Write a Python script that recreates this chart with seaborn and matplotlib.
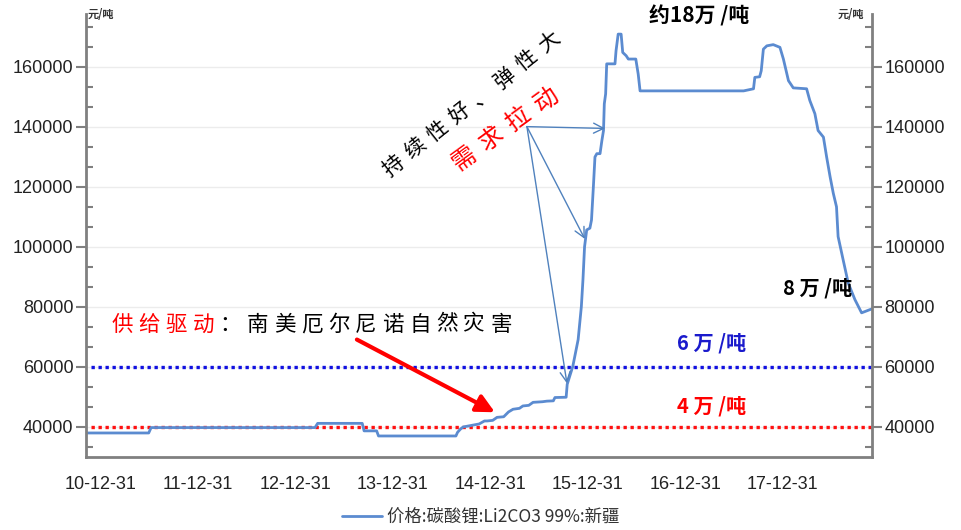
import matplotlib
matplotlib.use("Agg")
import matplotlib.pyplot as plt
import matplotlib.dates as mdates
import matplotlib.ticker as mticker
import matplotlib.transforms as mtransforms
import numpy as np
import pandas as pd
import seaborn as sns

# ---- data: Xinjiang Li2CO3 99% price (yuan/ton) ----
dates = [
    "2010-11-08", "2011-07-01", "2011-07-10", "2013-03-15", "2013-03-25",
    "2013-09-08", "2013-09-15", "2013-11-01", "2013-11-08", "2014-08-25",
    "2014-08-31", "2014-09-10", "2014-09-21", "2014-11-20", "2014-12-10",
    "2014-12-20", "2015-01-10", "2015-01-26", "2015-02-20", "2015-03-10",
    "2015-03-27", "2015-04-20", "2015-05-03", "2015-05-25", "2015-06-10",
    "2015-07-15", "2015-08-01", "2015-08-25", "2015-08-31", "2015-10-12",
    "2015-10-16", "2015-11-06", "2015-11-26", "2015-12-08", "2015-12-14",
    "2015-12-20", "2015-12-28", "2016-01-09", "2016-01-15", "2016-01-22",
    "2016-01-28", "2016-02-04", "2016-02-16", "2016-02-23", "2016-02-29",
    "2016-03-03", "2016-03-08", "2016-03-12", "2016-04-12", "2016-04-16",
    "2016-04-24", "2016-05-05", "2016-05-11", "2016-05-24", "2016-06-01",
    "2016-06-29", "2016-07-08", "2016-07-15", "2017-08-07", "2017-09-13",
    "2017-09-18", "2017-10-06", "2017-10-12", "2017-10-20", "2017-11-02",
    "2017-11-26", "2017-12-21", "2018-01-03", "2018-01-22", "2018-02-09",
    "2018-03-31", "2018-04-12", "2018-05-01", "2018-05-13", "2018-06-02",
    "2018-06-14", "2018-06-27", "2018-07-09", "2018-07-21", "2018-07-27",
    "2018-08-15", "2018-09-03", "2018-09-28", "2018-10-23", "2018-11-30",
]
prices = [
    38000, 38000, 39800, 39800, 41200,
    41200, 38700, 38700, 37000, 37000,
    38200, 39200, 40000, 41000, 42000,
    42000, 42200, 43200, 43400, 45000,
    45900, 46200, 47000, 47200, 48200,
    48400, 48600, 48700, 49800, 49900,
    54200, 60200, 69100, 80100, 89000,
    100000, 105600, 106200, 108900, 119900,
    129900, 131000, 131000, 135400, 138700,
    147600, 150900, 160900, 160900, 165300,
    170800, 170800, 164700, 163600, 162500,
    162500, 157500, 151900, 151900, 152600,
    156400, 156600, 158600, 165800, 166900,
    167300, 166400, 162500, 155300, 152900,
    152600, 148700, 144300, 138700, 136500,
    129900, 123300, 117800, 113300, 103400,
    95600, 87900, 82400, 78000, 79300,
]
series_name = "价格:碳酸锂:Li2CO3 99%:新疆"

year_ends = [f"{y}-12-31" for y in range(2010, 2018)]
y_major = [40000, 60000, 80000, 100000, 120000, 140000, 160000]
ref_levels = [60000, 40000]
ref_labels = ["6 万 /吨", "4 万 /吨"]

df = pd.DataFrame({"date": pd.to_datetime(dates), "price": prices})

# ---- style ----
sns.set_theme(style="white")
plt.rcParams["font.family"] = ["Noto Sans CJK SC", "DejaVu Sans"]
plt.rcParams["axes.unicode_minus"] = False

LINE = "#5b8bd0"
SPINE = "#808080"
TXT = "#222222"

fig = plt.figure(figsize=(9.62, 5.30), dpi=100)
ax = fig.add_axes([86 / 962, 1 - 457 / 530, (872 - 86) / 962, (457 - 14) / 530])

sns.lineplot(data=df, x="date", y="price", ax=ax, color=LINE, linewidth=2.0,
             label=series_name)
handles, labels = ax.get_legend_handles_labels()
ax.get_legend().remove()

x0 = pd.Timestamp("2010-11-08")
x1 = pd.Timestamp("2018-12-01")
ax.set_xlim(x0, x1)
ax.set_ylim(30000, 177500)
ax.set_xlabel("")
ax.set_ylabel("")

# reference levels
ax.hlines(ref_levels[0], pd.Timestamp("2010-11-25"), x1, colors="#1010e0",
          linestyles=(0, (1, 1.1)), linewidth=2.4, zorder=1)
ax.hlines(ref_levels[1], pd.Timestamp("2010-11-25"), x1, colors="#ff1010",
          linestyles=(0, (1, 1.1)), linewidth=2.4, zorder=1)

# x axis: year-end majors, quarter-end minors
quarter_ends = [pd.Timestamp(y, m, d) for y in range(2010, 2019)
                for (m, d) in [(3, 31), (6, 30), (9, 30), (12, 31)]]
quarter_ends = [q for q in quarter_ends if x0 <= q <= x1]
ax.xaxis.set_major_locator(mticker.FixedLocator(mdates.date2num(pd.to_datetime(year_ends))))
ax.xaxis.set_minor_locator(mticker.FixedLocator(mdates.date2num(quarter_ends)))
ax.xaxis.set_major_formatter(mdates.DateFormatter("%y-%m-%d"))

ax.yaxis.set_major_locator(mticker.FixedLocator(y_major))
ax.yaxis.set_minor_locator(mticker.MultipleLocator(20000 / 3))
ax.yaxis.set_major_formatter(mticker.FormatStrFormatter("%d"))

ax.yaxis.grid(True, which="major", color="#ececec", linewidth=1)
ax.xaxis.grid(False)
ax.set_axisbelow(True)

for s in ["top", "right"]:
    ax.spines[s].set_visible(False)
for s in ["left", "bottom"]:
    ax.spines[s].set_color(SPINE)
    ax.spines[s].set_linewidth(2)

ax.tick_params(axis="x", which="major", direction="out", length=8, width=1.5,
               color=SPINE, labelcolor=TXT, labelsize=13, pad=6)
ax.tick_params(axis="x", which="minor", direction="out", length=5, width=1.5,
               color=SPINE)
ax.tick_params(axis="y", which="major", direction="out", length=7, width=1.5,
               color=SPINE, labelcolor=TXT, labelsize=13, pad=2)
ax.tick_params(axis="y", which="minor", direction="in", length=5, width=1.5,
               color=SPINE)
for lab in ax.get_xticklabels() + ax.get_yticklabels():
    lab.set_fontfamily("Liberation Sans")

# mirrored right axis
ax2 = ax.twinx()
ax2.set_ylim(ax.get_ylim())
ax2.yaxis.set_major_locator(mticker.FixedLocator(y_major))
ax2.yaxis.set_minor_locator(mticker.MultipleLocator(20000 / 3))
ax2.yaxis.set_major_formatter(mticker.FormatStrFormatter("%d"))
ax2.grid(False)
for s in ["top", "left", "bottom"]:
    ax2.spines[s].set_visible(False)
ax2.spines["right"].set_color(SPINE)
ax2.spines["right"].set_linewidth(2)
ax2.tick_params(axis="y", which="major", direction="out", length=7, width=1.5,
                color=SPINE, labelcolor=TXT, labelsize=13, pad=2)
ax2.tick_params(axis="y", which="minor", direction="in", length=5, width=1.5,
                color=SPINE)
for lab in ax2.get_yticklabels():
    lab.set_fontfamily("Liberation Sans")

# unit labels
fig.text(88 / 962, 1 - 15 / 530, "元/吨", fontsize=8, color="#333333",
         ha="left", va="center", fontweight="bold")
fig.text(838 / 962, 1 - 15 / 530, "元/吨", fontsize=8, color="#333333",
         ha="left", va="center", fontweight="bold")


def dnum(s):
    return mdates.date2num(pd.Timestamp(s))


def spaced(x, y, text, step, angle=0.0, colors=None, **kw):
    """Draw text character by character with a fixed pitch (points)."""
    th = np.deg2rad(angle)
    n = len(text)
    for i, ch in enumerate(text):
        d = (i - (n - 1) / 2) * step
        tr = mtransforms.offset_copy(ax.transData, fig=fig, x=d * np.cos(th),
                                     y=d * np.sin(th), units="points")
        c = colors[i] if colors is not None else kw.get("color", "black")
        kk = {k: v for k, v in kw.items() if k != "color"}
        ax.text(x, y, ch, transform=tr, rotation=angle, ha="center",
                va="center", color=c, clip_on=False, **kk)


# value callouts
ax.text(dnum("2017-02-21"), 176800, "约18万 /吨", fontsize=15, fontweight="bold",
        color="black", ha="center", va="center", clip_on=False)
ax.text(dnum("2018-05-12"), 86300, "8 万 /吨", fontsize=14.5, fontweight="bold",
        color="black", ha="center", va="center")
ax.text(dnum("2017-04-10"), 68100, ref_labels[0], fontsize=14.5, fontweight="bold",
        color="#1a1acc", ha="center", va="center")
ax.text(dnum("2017-04-10"), 46900, ref_labels[1], fontsize=14.5, fontweight="bold",
        color="#ff0000", ha="center", va="center")

# supply-side note
supply = "供给驱动：南美厄尔尼诺自然灾害"
supply_colors = ["#ff0000"] * 4 + ["black"] * (len(supply) - 4)
spaced(dnum("2013-03-02"), 74100, supply, 19.5, 0, colors=supply_colors,
       fontsize=15.5)

# demand-side note
spaced(dnum("2014-10-21"), 147400, "持续性好、弹性大", 20.5, 38.5,
       color="black", fontsize=15)
spaced(dnum("2015-02-25"), 139200, "需求拉动", 24.5, 36, color="#ff0000",
       fontsize=17.5)

# demand arrows
origin = (dnum("2015-05-18"), 140000)
for tgt in [(dnum("2016-03-06"), 139400), (dnum("2015-12-21"), 102600),
            (dnum("2015-10-15"), 54500)]:
    ax.annotate("", xy=tgt, xytext=origin,
                arrowprops=dict(arrowstyle="->,head_length=0.6,head_width=0.3",
                                color="#4f81bd", lw=1.0, shrinkA=0, shrinkB=0))

# supply arrow
ax.annotate("", xy=(dnum("2015-01-18"), 44900), xytext=(dnum("2013-08-19"), 69100),
            arrowprops=dict(arrowstyle="-|>,head_length=0.9,head_width=0.45",
                            color="#ff0000", lw=3, shrinkA=0, shrinkB=0))

fig.legend(handles, labels, loc="center", bbox_to_anchor=(0.5, 1 - 517 / 530),
           frameon=False, fontsize=12.5, handlelength=2.3, handletextpad=0.3,
           labelcolor="#333333")

fig.savefig("out.png", dpi=100)
